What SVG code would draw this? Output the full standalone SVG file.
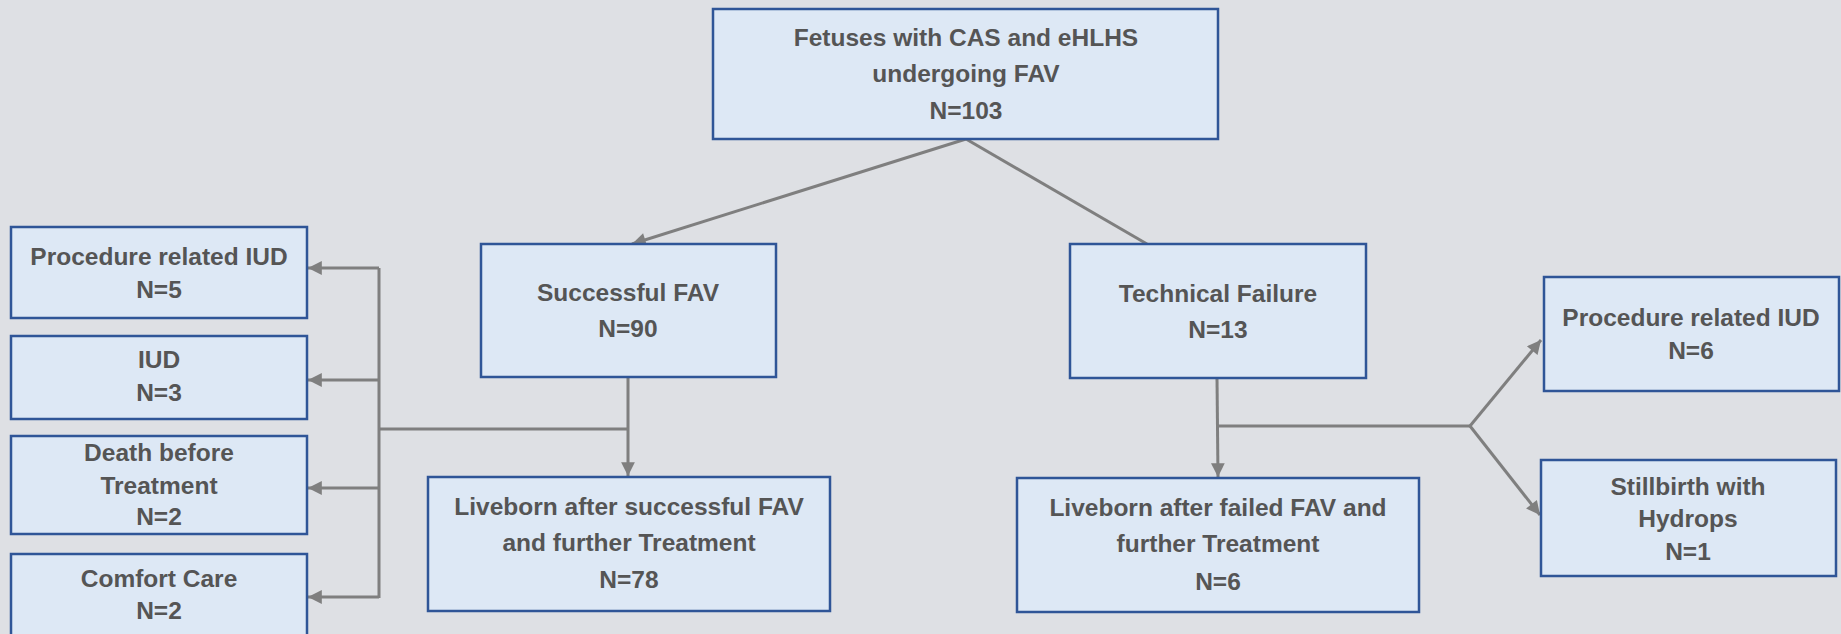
<svg xmlns="http://www.w3.org/2000/svg" width="1841" height="634" viewBox="0 0 1841 634">
<defs>
<style>
.box{fill:#dde8f5;stroke:#2f5597;stroke-width:2.5}
.t{font-family:"Liberation Sans",Arial,sans-serif;font-weight:bold;font-size:24.5px;fill:#555555;text-anchor:middle}
.c{fill:none;stroke:#7f7f7f;stroke-width:3}
</style>
<marker id="ah" viewBox="0 0 10 10" refX="10" refY="5" markerWidth="6.5" markerHeight="4.6" markerUnits="strokeWidth" orient="auto">
<path d="M0,0 L10,5 L0,10 z" fill="#7f7f7f"/>
</marker>
</defs>
<rect x="0" y="0" width="1841" height="634" fill="#dee0e4"/>
<g id="connectors">
<line class="c" x1="966" y1="139" x2="632" y2="244" marker-end="url(#ah)"/>
<line class="c" x1="966" y1="139" x2="1147" y2="244"/>
<line class="c" x1="628" y1="378" x2="628" y2="476" marker-end="url(#ah)"/>
<line class="c" x1="628" y1="429" x2="379" y2="429"/>
<line class="c" x1="379" y1="268" x2="379" y2="598"/>
<line class="c" x1="379" y1="268" x2="308" y2="268" marker-end="url(#ah)"/>
<line class="c" x1="379" y1="380" x2="308" y2="380" marker-end="url(#ah)"/>
<line class="c" x1="379" y1="488" x2="308" y2="488" marker-end="url(#ah)"/>
<line class="c" x1="379" y1="597" x2="308" y2="597" marker-end="url(#ah)"/>
<line class="c" x1="1217" y1="378" x2="1218" y2="477" marker-end="url(#ah)"/>
<line class="c" x1="1217" y1="426" x2="1470" y2="426"/>
<line class="c" x1="1470" y1="426" x2="1541" y2="340" marker-end="url(#ah)"/>
<line class="c" x1="1470" y1="426" x2="1540" y2="515" marker-end="url(#ah)"/>
</g>
<g id="n_top">
<rect class="box" x="713" y="9" width="505" height="130"/>
<text class="t" x="966" y="46">Fetuses with CAS and eHLHS</text>
<text class="t" x="966" y="82">undergoing FAV</text>
<text class="t" x="966" y="119">N=103</text>
</g>
<g id="n_success">
<rect class="box" x="481" y="244" width="295" height="133"/>
<text class="t" x="628" y="301">Successful FAV</text>
<text class="t" x="628" y="337">N=90</text>
</g>
<g id="n_tech">
<rect class="box" x="1070" y="244" width="296" height="134"/>
<text class="t" x="1218" y="302">Technical Failure</text>
<text class="t" x="1218" y="338">N=13</text>
</g>
<g id="n_proc_left">
<rect class="box" x="11" y="227" width="296" height="91"/>
<text class="t" x="159" y="265">Procedure related IUD</text>
<text class="t" x="159" y="298">N=5</text>
</g>
<g id="n_iud">
<rect class="box" x="11" y="336" width="296" height="83"/>
<text class="t" x="159" y="368">IUD</text>
<text class="t" x="159" y="401">N=3</text>
</g>
<g id="n_death">
<rect class="box" x="11" y="436" width="296" height="98"/>
<text class="t" x="159" y="461">Death before</text>
<text class="t" x="159" y="494">Treatment</text>
<text class="t" x="159" y="525">N=2</text>
</g>
<g id="n_comfort">
<rect class="box" x="11" y="554" width="296" height="90"/>
<text class="t" x="159" y="587">Comfort Care</text>
<text class="t" x="159" y="619">N=2</text>
</g>
<g id="n_live_success">
<rect class="box" x="428" y="477" width="402" height="134"/>
<text class="t" x="629" y="515">Liveborn after successful FAV</text>
<text class="t" x="629" y="551">and further Treatment</text>
<text class="t" x="629" y="588">N=78</text>
</g>
<g id="n_live_failed">
<rect class="box" x="1017" y="478" width="402" height="134"/>
<text class="t" x="1218" y="516">Liveborn after failed FAV and</text>
<text class="t" x="1218" y="552">further Treatment</text>
<text class="t" x="1218" y="590">N=6</text>
</g>
<g id="n_proc_right">
<rect class="box" x="1544" y="277" width="295" height="114"/>
<text class="t" x="1691" y="326">Procedure related IUD</text>
<text class="t" x="1691" y="359">N=6</text>
</g>
<g id="n_still">
<rect class="box" x="1541" y="460" width="295" height="116"/>
<text class="t" x="1688" y="495">Stillbirth with</text>
<text class="t" x="1688" y="527">Hydrops</text>
<text class="t" x="1688" y="560">N=1</text>
</g>
</svg>
